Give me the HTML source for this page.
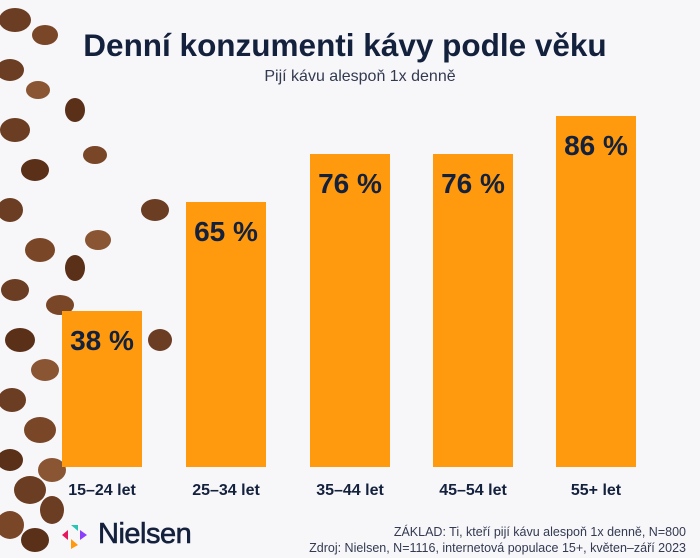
<!DOCTYPE html>
<html><head><meta charset="utf-8"><style>
body{margin:0;width:700px;height:558px;background:#f7f7fa;position:relative;overflow:hidden;font-family:"Liberation Sans",sans-serif;color:#14213d}
.t{position:absolute;left:0;width:700px;text-align:center}
.bar{position:absolute;background:#ff990d;width:80px;bottom:91px}
.bar span{position:absolute;left:0;width:80px;text-align:center;top:14px;font-weight:bold;font-size:28px;color:#14213d}
.lab{position:absolute;top:482px;width:120px;text-align:center;font-weight:bold;font-size:16px}
.src{position:absolute;right:14px;font-size:12.5px;text-align:right;color:#333a50}
</style></head><body>
<svg width="190" height="558" style="position:absolute;left:0;top:0">
<g fill="#6b3d22">
<ellipse cx="15" cy="20" rx="16" ry="12"/><ellipse cx="45" cy="35" rx="13" ry="10" fill="#7a4628"/>
<ellipse cx="10" cy="70" rx="14" ry="11"/><ellipse cx="38" cy="90" rx="12" ry="9" fill="#8a5533"/>
<ellipse cx="75" cy="110" rx="10" ry="12" fill="#5a3019"/><ellipse cx="15" cy="130" rx="15" ry="12"/>
<ellipse cx="95" cy="155" rx="12" ry="9" fill="#7a4628"/><ellipse cx="35" cy="170" rx="14" ry="11" fill="#5a3019"/>
<ellipse cx="155" cy="210" rx="14" ry="11" fill="#6b3d22"/><ellipse cx="10" cy="210" rx="13" ry="12"/>
<ellipse cx="98" cy="240" rx="13" ry="10" fill="#8a5533"/><ellipse cx="40" cy="250" rx="15" ry="12" fill="#7a4628"/>
<ellipse cx="75" cy="268" rx="10" ry="13" fill="#5a3019"/><ellipse cx="15" cy="290" rx="14" ry="11"/>
<ellipse cx="60" cy="305" rx="14" ry="10" fill="#7a4628"/><ellipse cx="160" cy="340" rx="12" ry="11"/>
<ellipse cx="20" cy="340" rx="15" ry="12" fill="#5a3019"/><ellipse cx="45" cy="370" rx="14" ry="11" fill="#8a5533"/>
<ellipse cx="12" cy="400" rx="14" ry="12"/><ellipse cx="40" cy="430" rx="16" ry="13" fill="#7a4628"/>
<ellipse cx="10" cy="460" rx="13" ry="11" fill="#5a3019"/><ellipse cx="30" cy="490" rx="16" ry="14"/>
<ellipse cx="52" cy="470" rx="14" ry="12" fill="#8a5533"/><ellipse cx="10" cy="525" rx="14" ry="14" fill="#7a4628"/>
<ellipse cx="35" cy="540" rx="14" ry="12" fill="#5a3019"/><ellipse cx="52" cy="510" rx="12" ry="14"/>
</g></svg>
<div class="t" style="top:27px;font-size:31.5px;font-weight:bold;left:-5px">Denní konzumenti kávy podle věku</div>
<div class="t" style="top:68px;font-size:16px;color:#333a50;left:10px">Pijí kávu alespoň 1x denně</div>
<div class="bar" style="left:62px;height:156px"><span>38 %</span></div>
<div class="bar" style="left:186px;height:265px"><span>65 %</span></div>
<div class="bar" style="left:310px;height:313px"><span>76 %</span></div>
<div class="bar" style="left:433px;height:313px"><span>76 %</span></div>
<div class="bar" style="left:556px;height:351px"><span>86 %</span></div>
<div class="lab" style="left:42px">15–24 let</div>
<div class="lab" style="left:166px">25–34 let</div>
<div class="lab" style="left:290px">35–44 let</div>
<div class="lab" style="left:413px">45–54 let</div>
<div class="lab" style="left:536px">55+ let</div>
<svg width="36" height="30" style="position:absolute;left:58px;top:521px">
<polygon points="4,14 10,9 10,19" fill="#e8175d"/><polygon points="13,4 20,4 20,10" fill="#27c4b8"/>
<polygon points="22,9 29,14 22,19" fill="#8a3ffc"/><polygon points="13,18 20,24 13,28" fill="#ff990d"/></svg>
<div style="position:absolute;left:98px;top:518px;font-size:29px;font-weight:500;letter-spacing:-0.5px;-webkit-text-stroke:0.6px #14213d">Nielsen</div>
<div class="src" style="top:525px">ZÁKLAD: Ti, kteří pijí kávu alespoň 1x denně, N=800</div>
<div class="src" style="top:541px">Zdroj: Nielsen, N=1116, internetová populace 15+, květen–září 2023</div>
</body></html>
